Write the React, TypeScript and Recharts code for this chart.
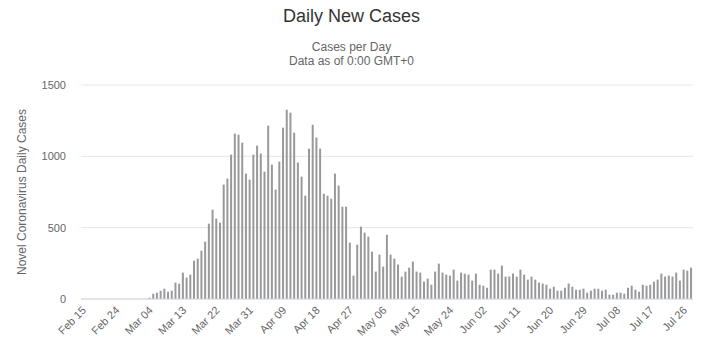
import React from "react";
import { BarChart, Bar, XAxis, YAxis, CartesianGrid } from "recharts";

// daily new cases, Feb 15 - Jul 28
const monthDays: [string, number, number][] = [
  ["Feb", 15, 29],
  ["Mar", 1, 31],
  ["Apr", 1, 30],
  ["May", 1, 31],
  ["Jun", 1, 30],
  ["Jul", 1, 28],
];

const febCases = [0, 0, 0, 0, 0, 0, 0, 0, 0, 0, 0, 0, 0, 0, 0];
const marCases = [
  0, 0, 0, 9, 37, 44, 58, 72, 51, 58, 115, 107, 185, 150, 171, 269, 283, 339, 402, 528,
  626, 563, 535, 802, 844, 1012, 1159, 1152, 1096, 879, 837,
];
const aprCases = [
  1012, 1075, 1019, 893, 1215, 942, 767, 963, 1201, 1327, 1306, 1166, 956, 858, 724,
  1054, 1222, 1131, 1054, 738, 724, 703, 879, 795, 647, 647, 395, 164, 381, 507,
];
const mayCases = [
  465, 437, 332, 192, 311, 227, 451, 311, 283, 241, 157, 192, 220, 262, 192, 185, 122,
  143, 100, 192, 248, 185, 171, 164, 206, 129, 185, 178, 171, 129, 178,
];
const junCases = [
  100, 93, 79, 206, 206, 178, 234, 157, 157, 178, 157, 206, 171, 136, 157, 136, 115, 108,
  100, 72, 86, 58, 58, 79, 108, 86, 65, 65, 72, 44,
];
const julCases = [
  58, 72, 72, 58, 65, 30, 30, 44, 44, 37, 79, 93, 65, 51, 100, 93, 100, 122, 136, 178,
  157, 164, 157, 185, 129, 206, 199, 220,
];

const yTicks = [0, 500, 1000, 1500];
const xTickLabels = [
  "Feb 15", "Feb 24", "Mar 04", "Mar 13", "Mar 22", "Mar 31", "Apr 09", "Apr 18", "Apr 27",
  "May 06", "May 15", "May 24", "Jun 02", "Jun 11", "Jun 20", "Jun 29", "Jul 08", "Jul 17", "Jul 26",
];

const allCases = [...febCases, ...marCases, ...aprCases, ...mayCases, ...junCases, ...julCases];

const dates: string[] = [];
monthDays.forEach(([m, from, to]) => {
  for (let d = from; d <= to; d++) dates.push(`${m} ${String(d).padStart(2, "0")}`);
});

const data = dates.map((date, i) => ({ date, cases: allCases[i] }));

const FONT = '"Liberation Sans", Arial, sans-serif';

const XTick = (props: any) => {
  const { x, y, payload } = props;
  const ax = x + 4;
  const ay = y + 4;
  return (
    <text
      x={ax}
      y={ay}
      transform={`rotate(-45 ${ax} ${ay})`}
      textAnchor="end"
      fill="#666666"
      fontSize={11}
      fontFamily={FONT}
    >
      {payload.value}
    </text>
  );
};

export default function App() {
  return (
    <div style={{ position: "absolute", left: 0, top: 0, width: 703, height: 359, background: "#fff", fontFamily: FONT }}>
      <div style={{ position: "absolute", left: 0, top: 6, width: 703, textAlign: "center", fontSize: 18, color: "#333333" }}>
        Daily New Cases
      </div>
      <div style={{ position: "absolute", left: 0, top: 40, width: 703, textAlign: "center", fontSize: 12, lineHeight: "14px", color: "#666666" }}>
        Cases per Day
        <br />
        Data as of 0:00 GMT+0
      </div>
      <div
        style={{
          position: "absolute",
          left: 22,
          top: 192,
          transform: "translate(-50%, -50%) rotate(-90deg)",
          whiteSpace: "nowrap",
          fontSize: 12,
          color: "#666666",
        }}
      >
        Novel Coronavirus Daily Cases
      </div>
      <BarChart
        width={703}
        height={359}
        data={data}
        margin={{ top: 85, right: 10, left: 0, bottom: 0 }}
        barCategoryGap="20%"
      >
        <CartesianGrid vertical={false} stroke="#e6e6e6" />
        <XAxis
          dataKey="date"
          height={60}
          interval={0}
          ticks={xTickLabels}
          tickLine={false}
          axisLine={{ stroke: "#ccd6eb" }}
          tick={<XTick />}
        />
        <YAxis
          width={81}
          domain={[0, 1500]}
          ticks={yTicks}
          axisLine={false}
          tickLine={false}
          tickSize={8}
          tickMargin={7}
          tick={{ fill: "#666666", fontSize: 11, fontFamily: FONT }}
        />
        <Bar dataKey="cases" fill="#999999" isAnimationActive={false} />
      </BarChart>
    </div>
  );
}
